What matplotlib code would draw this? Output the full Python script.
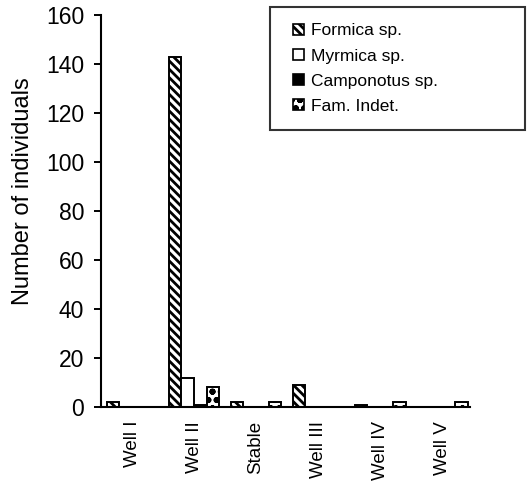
import matplotlib
matplotlib.use("Agg")
import matplotlib.pyplot as plt
import numpy as np
from matplotlib.legend_handler import HandlerPatch
from matplotlib.patches import Rectangle

sites = ["Well I", "Well II", "Stable", "Well III", "Well IV", "Well V"]
formica = [2, 143, 2, 9, 1, 0]
myrmica = [0, 12, 0, 0, 0, 0]
camponotus = [0, 1, 0, 0, 0, 0]
fam_indet = [0, 8, 2, 0, 2, 2]
series_names = ["Formica sp.", "Myrmica sp.", "Camponotus sp.", "Fam. Indet."]

plt.rcParams['font.family'] = ['Liberation Sans', 'DejaVu Sans']
plt.rcParams['hatch.linewidth'] = 2.0

fig = plt.figure(figsize=(5.3, 4.83), dpi=100)
ax = fig.add_axes([101/530, 1-407/483, (470-101)/530, (407-15)/483])

x = np.arange(len(sites))
w = 0.205
styles = [
    dict(facecolor="white", edgecolor="black", hatch="\\\\\\\\"),
    dict(facecolor="white", edgecolor="black"),
    dict(facecolor="black", edgecolor="black"),
    dict(facecolor="white", edgecolor="black", hatch="oo"),
]
for k, vals in enumerate([formica, myrmica, camponotus, fam_indet]):
    ax.bar(x - 1.5*w + k*w, vals, width=w, linewidth=1.4, label=series_names[k], **styles[k])

ax.set_xlim(-0.5, 5.45)
ax.set_ylim(0, 160)
ax.set_yticks(np.arange(0, 161, 20))
ax.set_xticks(x)
ax.set_xticklabels(sites, rotation=90, fontsize=13.5)
ax.tick_params(axis='x', length=0, pad=10)
ax.tick_params(axis='y', length=5, width=1.4, labelsize=16.5, pad=7)
for s in ['top', 'right']:
    ax.spines[s].set_visible(False)
for s in ['left', 'bottom']:
    ax.spines[s].set_linewidth(1.5)
ax.set_ylabel("Number of individuals", fontsize=17)
ax.yaxis.set_label_coords(-(101-34)/369, 0.55)


def make_square(legend, orig_handle, xdescent, ydescent, width, height, fontsize):
    s = 8
    return Rectangle((-xdescent + width - s, -ydescent + (height - s) / 2), s, s)

leg_handles = [Rectangle((0, 0), 1, 1, linewidth=1.2, **st) for st in styles]
leg = ax.legend(leg_handles, series_names,
                loc='upper left',
                bbox_to_anchor=(270/530, 1-128/483, (525-270)/530, (128-7)/483),
                bbox_transform=fig.transFigure, mode='expand', borderaxespad=0,
                fontsize=12.5, frameon=True, fancybox=False, borderpad=0.94,
                labelspacing=0.57, handlelength=1.0, handletextpad=0.4,
                handler_map={Rectangle: HandlerPatch(patch_func=make_square)})
leg.get_frame().set_edgecolor('black')
leg.get_frame().set_linewidth(1.5)

fig.savefig("out.png", dpi=100)
